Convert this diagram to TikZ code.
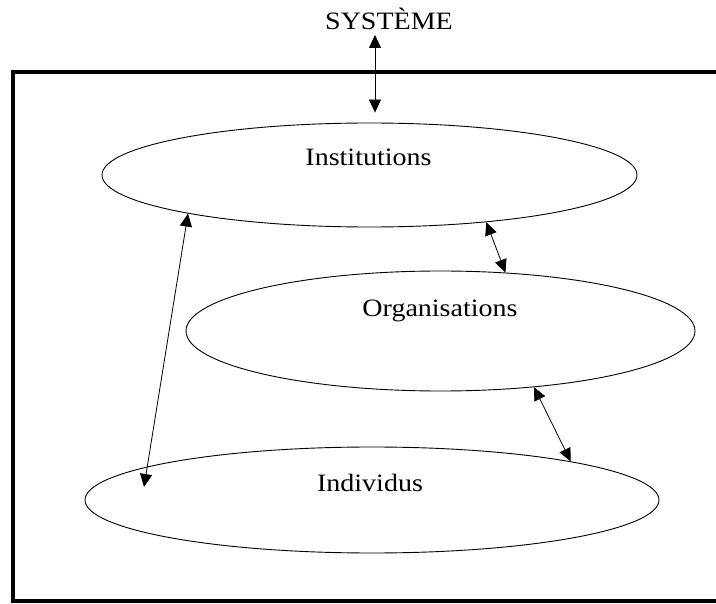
\documentclass[tikz,border=0pt]{standalone}
\usepackage{fontspec}
\setmainfont{Liberation Serif}
\newfontfamily\labfont[FakeStretch=1.12]{Liberation Serif}
\usetikzlibrary{arrows.meta,shapes.geometric}
\tikzstyle{sphere}=[draw,ellipse,line width=0.9pt,inner sep=0pt]
\tikzstyle{lab}=[font=\labfont\fontsize{25}{30}\selectfont,anchor=base,inner sep=0pt]
\tikzstyle{link}=[{Triangle[length=13pt,width=12pt]}-{Triangle[length=13pt,width=12pt]},line width=0.8pt]

\begin{document}
\begin{tikzpicture}[x=1pt,y=-1pt]
    \useasboundingbox (0,0) rectangle (716,604);
    \begin{scope}
      \clip (0,0) rectangle (716,604);
      \draw [line width=3.5pt] (13,72) rectangle (740,601);
    \end{scope}
    % the three levels
    \node [sphere,minimum width=535pt,minimum height=104pt] (inst) at (369.5,175) {};
    \node [sphere,minimum width=509pt,minimum height=120pt] (org) at (440.5,331) {};
    \node [sphere,minimum width=574pt,minimum height=106pt] (indiv) at (372,500) {};
    \node [lab] (sys) at (389,30) {SYSTÈME};
    \node [lab] (instlab) at (368.5,166) {Institutions};
    \node [lab] (orglab) at (440,317) {Organisations};
    \node [lab] (indivlab) at (370,492) {Individus};
    \coordinate (indivin) at (144,487);
    % links
    \draw [link] ([xshift=-14pt,yshift=-5pt]sys.base) -- ([xshift=5.5pt,yshift=10pt]inst.north);
    \draw [link] (inst.338) -- (org.42);
    \draw [link] (org.329) -- (indiv.11);
    \draw [link] (inst.192) -- (indivin);
\end{tikzpicture}
\end{document}
